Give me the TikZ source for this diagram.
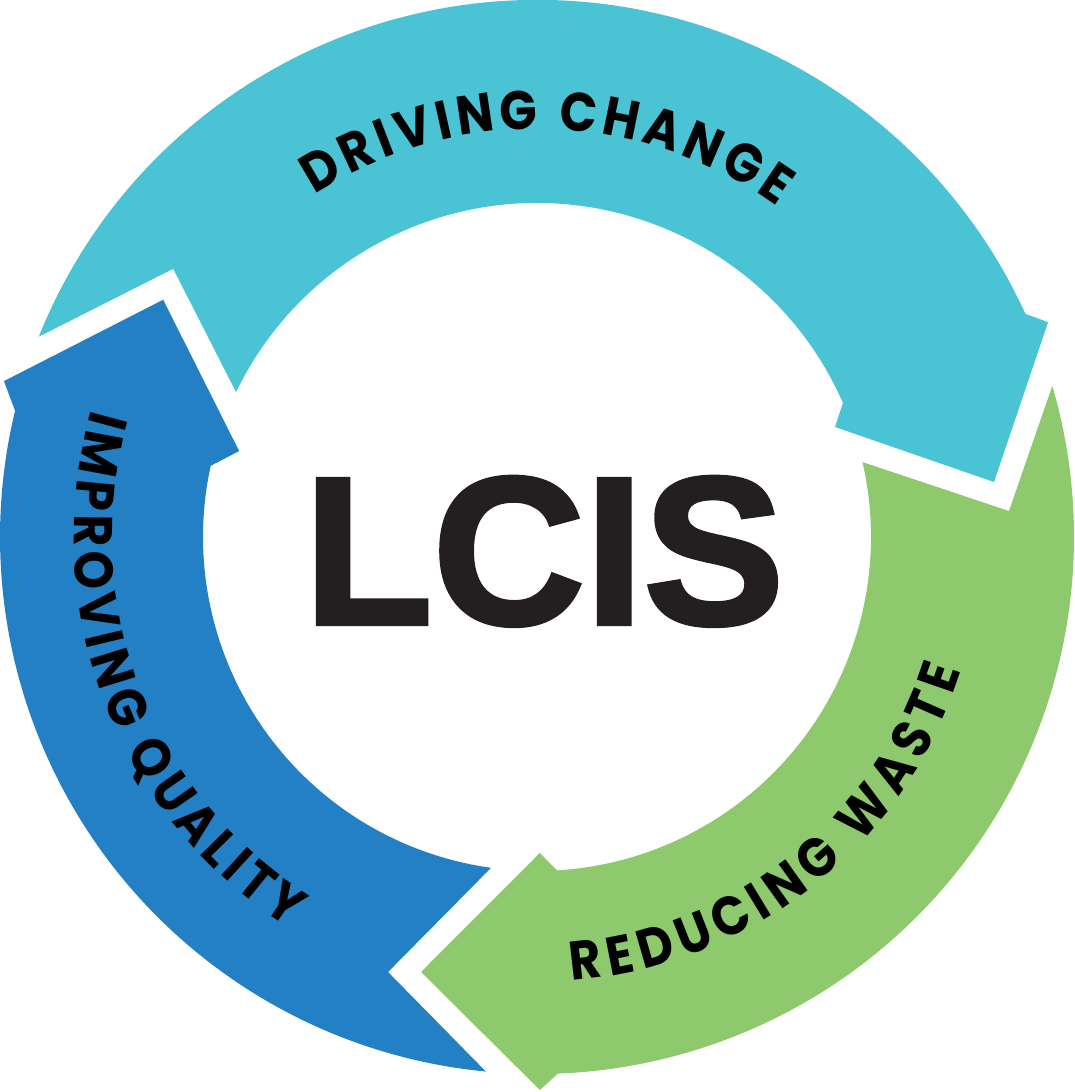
\documentclass[tikz,border=0pt]{standalone}
\usepackage{fontspec}
\setmainfont{Liberation Sans}
\newfontfamily\ringfont{Poppins}[FakeStretch=0.9]
\newfontfamily\corefont{Liberation Sans}[BoldFeatures={FakeBold=2}]
\usepackage{xcolor}
\definecolor{CycleTeal}{RGB}{74,195,212}
\definecolor{CycleGreen}{RGB}{142,201,110}
\definecolor{CycleBlue}{RGB}{36,128,196}
\definecolor{LcisInk}{RGB}{35,31,32}
\usepackage{tikz}
\usetikzlibrary{decorations.text,positioning}
\newcommand{\ringlabel}{\ringfont\bfseries\fontsize{15.5}{18}\selectfont}

\begin{document}
\begin{tikzpicture}[
    band/.style={draw=none},
    arcword/.style={decorate,decoration={text along path,text align=fit to path,text color=black,text={|\ringlabel|#1}}},
    core/.style={inner sep=0pt,anchor=base,text=LcisInk,font=\corefont\bfseries\fontsize{60}{60}\selectfont},
  ]
    \useasboundingbox (-5.37,-5.55) rectangle (5.37,5.37);
    % teal arrow, tail at the left, head at the right
    \fill[band,CycleTeal] (158.1:5.37) arc[start angle=158.1,end angle=24.55,radius=5.37]
        -- (22.8:5.544) -- (6.86:4.603) -- (20.26:3.177) -- (23.65:3.34)
        arc[start angle=23.65,end angle=154.3,radius=3.34] -- (143.6:4.52) -- cycle;
    % green arrow
    \fill[band,CycleGreen] (16.34:5.37) arc[start angle=16.34,end angle=-87.76,radius=5.37]
        -- (-89.7:5.53) -- (-104.93:4.502) -- (-89.5:3.16) -- (-86.56:3.34)
        arc[start angle=-86.56,end angle=12.96,radius=3.34] -- (3.15:4.727) -- cycle;
    % blue arrow
    \fill[band,CycleBlue] (264.54:5.37) arc[start angle=264.54,end angle=166.4,radius=5.37]
        -- (163.7:5.554) -- (147.6:4.428) -- (163.9:3.10) -- (167.7:3.34)
        arc[start angle=167.7,end angle=262.09,radius=3.34] -- (251.1:4.598) -- cycle;
    \node[core] (lcis) at (0.07,-0.87) {LCIS};
    \path[arcword={DRIVING CHANGE}] (123:4.08) arc[start angle=123,end angle=54,radius=4.08];
    \path[arcword={IMPROVING QUALITY}] (164:4.63) arc[start angle=164,end angle=237.5,radius=4.63];
    \path[arcword={REDUCING WASTE}] (274.5:4.45) arc[start angle=274.5,end angle=342.5,radius=4.45];
\end{tikzpicture}
\end{document}
